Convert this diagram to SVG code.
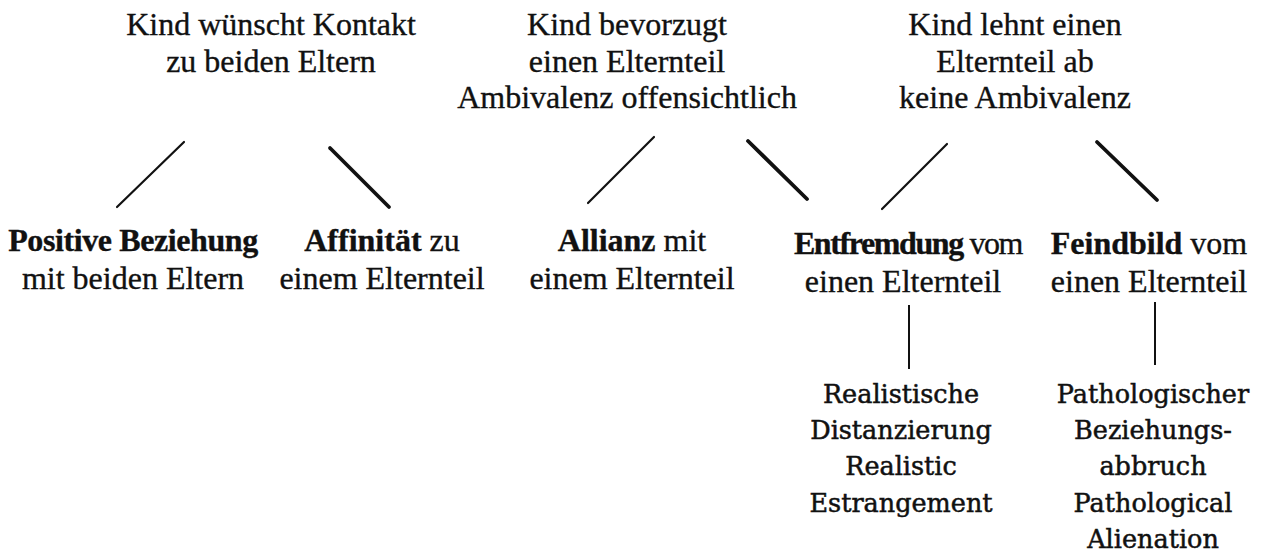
<svg xmlns="http://www.w3.org/2000/svg" width="1268" height="556" viewBox="0 0 1268 556">
<style>
.t{font-family:"Liberation Serif","Times New Roman",serif;font-size:32px;fill:#111;stroke:#111;stroke-width:0.35;text-anchor:middle}
.b{font-weight:bold}
.c{font-family:"DejaVu Serif","Liberation Serif",serif;font-size:25.5px;fill:#111;stroke:#111;stroke-width:0.5;text-anchor:middle}
.thin{stroke:#111;stroke-width:2.2;stroke-linecap:round;fill:none}
.thick{stroke:#111;stroke-width:3.8;stroke-linecap:round;fill:none}
.v{stroke:#111;stroke-width:2;fill:none}
</style>
<rect width="1268" height="556" fill="#fff"/>
<g id="top1">
<text class="t" x="271" y="35">Kind wünscht Kontakt</text>
<text class="t" x="271" y="72">zu beiden Eltern</text>
</g>
<g id="top2">
<text class="t" x="627" y="35">Kind bevorzugt</text>
<text class="t" x="627" y="72">einen Elternteil</text>
<text class="t" x="627" y="108">Ambivalenz offensichtlich</text>
</g>
<g id="top3">
<text class="t" x="1015" y="35">Kind lehnt einen</text>
<text class="t" x="1015" y="72">Elternteil ab</text>
<text class="t" x="1015" y="108">keine Ambivalenz</text>
</g>
<g id="connectors">
<line class="thin" x1="184" y1="142" x2="117" y2="207"/>
<line class="thick" x1="330" y1="148" x2="389" y2="207"/>
<line class="thin" x1="654" y1="137" x2="588" y2="203"/>
<line class="thick" x1="748" y1="141" x2="807" y2="199"/>
<line class="thin" x1="947" y1="144" x2="882" y2="209"/>
<line class="thick" x1="1097" y1="142" x2="1157" y2="200"/>
<line class="v" x1="909" y1="305" x2="909" y2="369"/>
<line class="v" x1="1155" y1="302" x2="1155" y2="365"/>
</g>
<g id="positive">
<text class="t b" x="133" y="251" letter-spacing="-0.4">Positive Beziehung</text>
<text class="t" x="133" y="289">mit beiden Eltern</text>
</g>
<g id="affinitaet">
<text class="t" x="382" y="251"><tspan class="b">Affinität</tspan> zu</text>
<text class="t" x="382" y="289">einem Elternteil</text>
</g>
<g id="allianz">
<text class="t" x="632" y="251"><tspan class="b">Allianz</tspan> mit</text>
<text class="t" x="632" y="289">einem Elternteil</text>
</g>
<g id="entfremdung">
<text class="t" x="908" y="254" letter-spacing="-1.4"><tspan class="b">Entfremdung</tspan> vom</text>
<text class="t" x="903" y="292">einen Elternteil</text>
</g>
<g id="feindbild">
<text class="t" x="1149" y="254"><tspan class="b">Feindbild</tspan> vom</text>
<text class="t" x="1149" y="292">einen Elternteil</text>
</g>
<g id="realistic">
<text class="c" x="901" y="403">Realistische</text>
<text class="c" x="901" y="439">Distanzierung</text>
<text class="c" x="901" y="475">Realistic</text>
<text class="c" x="901" y="512">Estrangement</text>
</g>
<g id="pathological">
<text class="c" x="1153" y="403">Pathologischer</text>
<text class="c" x="1153" y="439">Beziehungs-</text>
<text class="c" x="1153" y="475">abbruch</text>
<text class="c" x="1153" y="512">Pathological</text>
<text class="c" x="1153" y="548">Alienation</text>
</g>
</svg>
